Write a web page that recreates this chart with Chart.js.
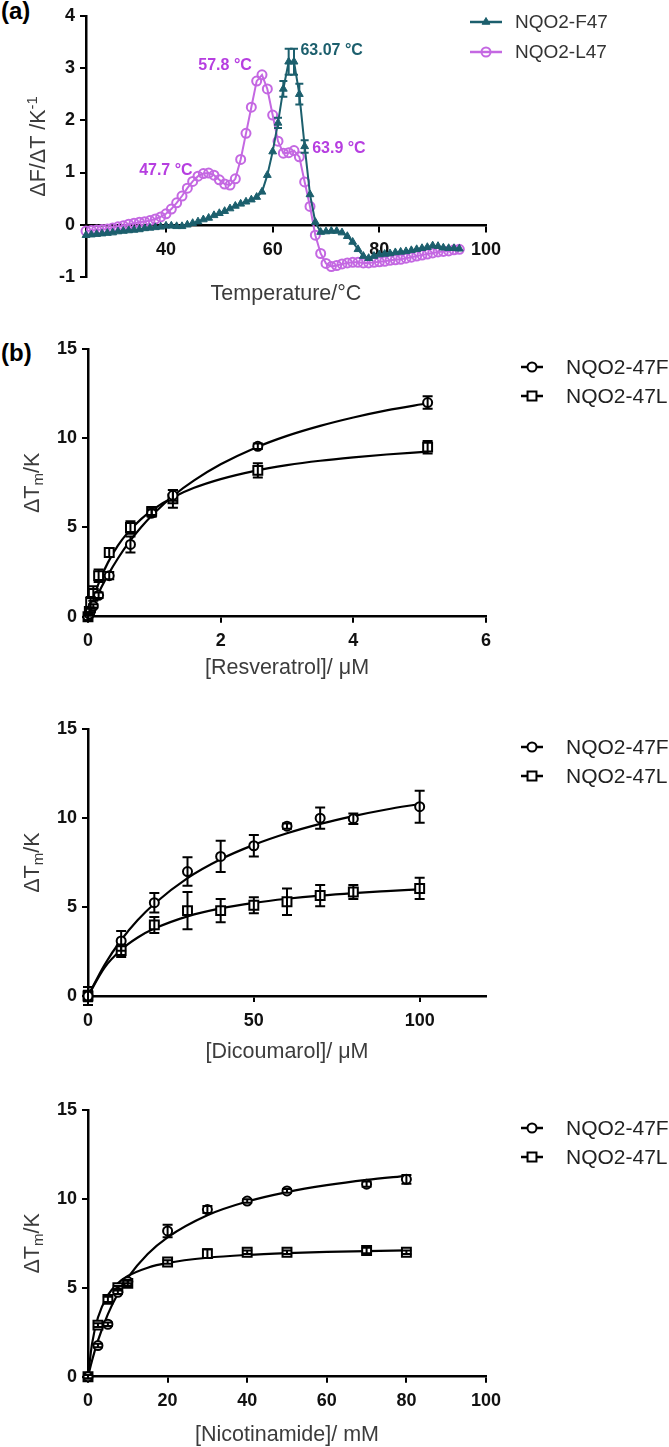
<!DOCTYPE html>
<html>
<head>
<meta charset="utf-8">
<script src="https://cdn.jsdelivr.net/npm/chart.js@4.4.1/dist/chart.umd.min.js"></script>
<style>
  body { margin: 0; background: #fff; width: 669px; height: 1447px; position: relative; overflow: hidden; }
  canvas { position: absolute; left: 0; }
  .tag { position: absolute; left: 1px; font: bold 24px "Liberation Sans", Arial, sans-serif; color: #000; }
</style>
</head>
<body>
<div class="tag" style="top:-3px">(a)</div>
<div class="tag" style="top:339px">(b)</div>
<canvas id="chartA" width="669" height="310" style="top:0"></canvas>
<canvas id="chartB1" width="669" height="380" style="top:310px"></canvas>
<canvas id="chartB2" width="669" height="385" style="top:690px"></canvas>
<canvas id="chartB3" width="669" height="387" style="top:1060px"></canvas>
<script>
// ---- (a) first derivative melting curves ----
const tempC = [25,26,27,28,29,30,31,32,33,34,35,36,37,38,39,40,41,42,43,44,45,46,47,48,49,50,
  51,52,53,54,55,56,57,58,59,60,61,62,63,64,65,66,67,68,69,70,71,72,73,74,75,76,77,78,79,80,
  81,82,83,84,85,86,87,88,89,90,91,92,93,94,95];
const nqo2F47 = [-0.20,-0.19,-0.18,-0.17,-0.16,-0.15,-0.13,-0.12,-0.11,-0.10,-0.09,-0.07,-0.06,-0.05,-0.04,-0.02,
  -0.02,-0.03,-0.03,0.00,0.03,0.06,0.10,0.13,0.18,0.22,0.26,0.31,0.36,0.40,0.44,0.48,0.53,0.63,0.95,1.40,
  1.95,2.60,3.12,3.12,2.50,1.50,0.58,0.05,-0.14,-0.13,-0.12,-0.12,-0.15,-0.22,-0.33,-0.47,-0.60,-0.64,-0.60,-0.57,
  -0.56,-0.55,-0.53,-0.52,-0.51,-0.49,-0.47,-0.45,-0.43,-0.40,-0.41,-0.44,-0.45,-0.45,-0.46];
const nqo2F47Err = [0,0,0,0,0,0,0,0,0,0,0,0,0,0,0,0,0,0,0,0,0,0,0,0,0,0,0,0,0,0,0,0,0,0,0,0,
  0.1,0.15,0.25,0.25,0.2,0.12,0,0,0,0,0,0,0,0,0,0,0,0,0,0,0,0,0,0,0,0,0,0,0,0,0,0,0,0,0];
const nqo2L47 = [-0.12,-0.11,-0.10,-0.09,-0.08,-0.06,-0.04,-0.02,0.01,0.03,0.05,0.06,0.08,0.11,0.15,0.21,
  0.30,0.42,0.55,0.70,0.83,0.93,0.98,0.99,0.95,0.86,0.78,0.76,0.88,1.25,1.75,2.25,2.75,2.87,2.60,2.10,
  1.60,1.37,1.38,1.42,1.30,0.82,0.35,-0.20,-0.55,-0.74,-0.80,-0.78,-0.75,-0.73,-0.72,-0.72,-0.73,-0.73,-0.72,-0.71,
  -0.70,-0.68,-0.67,-0.66,-0.64,-0.62,-0.60,-0.58,-0.56,-0.54,-0.52,-0.51,-0.50,-0.48,-0.47];
const tempTicksX = [40, 60, 80, 100];
const tempTicksY = [-1, 0, 1, 2, 3, 4];
const peakText = ['63.07 °C', '57.8 °C', '63.9 °C', '47.7 °C'];

// ---- (b) thermal shift vs ligand concentration ----
const seriesNames = ['NQO2-47F', 'NQO2-47L'];
const bTicksY = [0, 5, 10, 15];

const resvConc = [0, 0.02, 0.04, 0.08, 0.16, 0.32, 0.64, 0.96, 1.28, 2.56, 5.12];
const resvF    = [0, 0.15, 0.35, 0.6, 1.2, 2.3, 4.05, 5.8, 6.8, 9.55, 12.0];
const resvFErr = [0.2, 0.1, 0.1, 0.1, 0.15, 0.2, 0.45, 0.2, 0.3, 0.15, 0.35];
const resvL    = [0, 0.3, 0.8, 1.3, 2.3, 3.6, 5.0, 5.9, 6.6, 8.2, 9.5];
const resvLErr = [0.2, 0.2, 0.3, 0.4, 0.35, 0.25, 0.35, 0.2, 0.5, 0.4, 0.35];
const resvFitX = [0, 0.05, 0.1, 0.2, 0.3, 0.45, 0.6, 0.8, 1.0, 1.3, 1.6, 2.0, 2.5, 3.0, 3.5, 4.0, 4.5, 5.12];
const resvFitF = [0, 0.44, 0.86, 1.63, 2.33, 3.26, 4.08, 5.01, 5.81, 6.82, 7.64, 8.54, 9.43, 10.13, 10.69, 11.16, 11.56, 11.96];
const resvFitL = [0, 0.66, 1.25, 2.23, 3.03, 3.98, 4.71, 5.47, 6.06, 6.72, 7.22, 7.71, 8.16, 8.49, 8.74, 8.93, 9.09, 9.25];
const resvTicksX = [0, 2, 4, 6];

const dicoConc = [0, 10, 20, 30, 40, 50, 60, 70, 80, 100];
const dicoF    = [0, 3.1, 5.25, 7.0, 7.85, 8.45, 9.55, 10.0, 9.97, 10.65];
const dicoFErr = [0.5, 0.55, 0.55, 0.8, 0.88, 0.6, 0.15, 0.6, 0.3, 0.9];
const dicoL    = [0, 2.55, 4.0, 4.8, 4.8, 5.1, 5.3, 5.65, 5.85, 6.05];
const dicoLErr = [0.3, 0.35, 0.45, 1.05, 0.65, 0.45, 0.75, 0.6, 0.4, 0.6];
const dicoFitX = [0, 5, 10, 15, 20, 30, 40, 50, 60, 70, 80, 90, 100];
const dicoFitF = [0, 1.76, 3.15, 4.27, 5.19, 6.63, 7.69, 8.5, 9.15, 9.68, 10.12, 10.49, 10.8];
const dicoFitL = [0, 1.6, 2.6, 3.29, 3.79, 4.48, 4.93, 5.24, 5.47, 5.65, 5.79, 5.9, 6.0];
const dicoTicksX = [0, 50, 100];

const nicoConc = [0, 2.5, 5, 7.5, 10, 20, 30, 40, 50, 70, 80];
const nicoF    = [0, 1.75, 2.95, 4.75, 5.35, 8.2, 9.4, 9.88, 10.45, 10.83, 11.1];
const nicoFErr = [0.1, 0.1, 0.1, 0.1, 0.1, 0.35, 0.2, 0.1, 0.1, 0.15, 0.25];
const nicoL    = [0, 2.9, 4.35, 5.0, 5.25, 6.45, 6.92, 7.0, 7.0, 7.1, 7.0];
const nicoLErr = [0.1, 0.1, 0.15, 0.1, 0.15, 0.1, 0.25, 0.1, 0.1, 0.15, 0.1];
const nicoFitX = [0, 1, 2.5, 5, 7.5, 10, 15, 20, 30, 40, 50, 60, 70, 80];
const nicoFitF = [0, 0.9, 2.03, 3.52, 4.67, 5.57, 6.9, 7.84, 9.08, 9.85, 10.38, 10.77, 11.07, 11.3];
const nicoFitL = [0, 1.83, 3.33, 4.59, 5.25, 5.66, 6.13, 6.4, 6.69, 6.85, 6.95, 7.02, 7.06, 7.1];
const nicoTicksX = [0, 20, 40, 60, 80, 100];

const FONT = '"Liberation Sans", Arial, sans-serif';
const TEAL = '#1c5f6d';
const VIOLET = '#c468e2';
const VIOLET_TXT = '#b63ee0';

function pts(xs, ys) {
  return xs.map((x, i) => ({ x: x, y: ys[i] }));
}

// error bars drawn with the chart's own scales
const errorBars = {
  id: 'errorBars',
  afterDatasetsDraw(chart) {
    const ctx = chart.ctx;
    const sx = chart.scales.x, sy = chart.scales.y;
    chart.data.datasets.forEach(ds => {
      if (!ds.errors) return;
      ctx.save();
      ctx.strokeStyle = ds.borderColor;
      ctx.lineWidth = 2;
      ds.data.forEach((p, j) => {
        const e = ds.errors[j];
        if (!e) return;
        const px = sx.getPixelForValue(p.x);
        const top = sy.getPixelForValue(p.y + e);
        const bot = sy.getPixelForValue(p.y - e);
        const c = ds.capHalf || 5;
        ctx.beginPath();
        ctx.moveTo(px, top); ctx.lineTo(px, bot);
        ctx.moveTo(px - c, top); ctx.lineTo(px + c, top);
        ctx.moveTo(px - c, bot); ctx.lineTo(px + c, bot);
        ctx.stroke();
      });
      ctx.restore();
    });
  }
};

// legend at the right: line + marker + name, taken from the datasets
const sideLegend = {
  id: 'sideLegend',
  afterDraw(chart, args, o) {
    const ctx = chart.ctx;
    const items = chart.data.datasets.filter(ds => ds.inLegend);
    items.forEach((ds, i) => {
      const y = o.y + i * o.gap;
      ctx.save();
      ctx.strokeStyle = ds.borderColor;
      ctx.lineWidth = 2.5;
      ctx.beginPath();
      ctx.moveTo(o.x, y); ctx.lineTo(o.x + o.len, y);
      ctx.stroke();
      ctx.fillStyle = ds.pointBackgroundColor;
      ctx.lineWidth = ds.pointBorderWidth;
      Chart.helpers.drawPoint(ctx, { pointStyle: ds.pointStyle, radius: ds.pointRadius, borderWidth: ds.pointBorderWidth, rotation: 0 }, o.x + o.len / 2, y);
      ctx.fillStyle = o.color;
      ctx.font = o.font;
      ctx.textBaseline = 'middle';
      ctx.textAlign = 'left';
      ctx.fillText(ds.label, o.textX, y + 1);
      ctx.restore();
    });
  }
};

// axis titles (with sub/superscripts) and free text labels
const titles = {
  id: 'titles',
  afterDraw(chart, args, o) {
    const ctx = chart.ctx;
    const a = chart.chartArea;
    ctx.save();
    ctx.fillStyle = o.color;
    ctx.font = o.size + 'px ' + FONT;
    ctx.textAlign = 'center';
    ctx.textBaseline = 'middle';
    ctx.fillText(o.xText, (a.left + a.right) / 2, o.xTitleY);

    // rotated y title built from parts
    const big = o.size + 'px ' + FONT, small = Math.round(o.size * 0.68) + 'px ' + FONT;
    let w = 0;
    o.yParts.forEach(p => { ctx.font = p.s ? small : big; w += ctx.measureText(p.t).width; });
    ctx.translate(o.yTitleX, (a.top + a.bottom) / 2);
    ctx.rotate(-Math.PI / 2);
    ctx.textAlign = 'left';
    ctx.textBaseline = 'alphabetic';
    let cx = -w / 2;
    const base = o.size * 0.36;
    o.yParts.forEach(p => {
      ctx.font = p.s ? small : big;
      const dy = p.s === 'sub' ? o.size * 0.22 : p.s === 'sup' ? -o.size * 0.38 : 0;
      ctx.fillText(p.t, cx, base + dy);
      cx += ctx.measureText(p.t).width;
    });
    ctx.restore();

    if (o.notes) {
      const sx = chart.scales.x, sy = chart.scales.y;
      ctx.save();
      ctx.font = 'bold 16px ' + FONT;
      ctx.textBaseline = 'middle';
      o.notes.forEach(n => {
        ctx.fillStyle = n.color;
        ctx.textAlign = n.align;
        ctx.fillText(n.text, sx.getPixelForValue(n.x), sy.getPixelForValue(n.y));
      });
      ctx.restore();
    }
  }
};

function axisStyle(ticks, min, max, extra) {
  return Object.assign({
    type: 'linear',
    min: min,
    max: max,
    afterBuildTicks: s => { s.ticks = ticks.map(v => ({ value: v })); },
    border: { display: true, color: '#000', width: 2.5 },
    grid: { display: true, drawOnChartArea: false, drawTicks: true, tickLength: 6, color: '#000', lineWidth: 2 },
    ticks: { color: '#111', padding: 5, font: { family: FONT, size: 18, weight: 'bold' } }
  }, extra);
}

// ---- chart (a) ----
new Chart(document.getElementById('chartA'), {
  type: 'line',
  data: {
    datasets: [
      {
        label: 'NQO2-F47', data: pts(tempC, nqo2F47), errors: nqo2F47Err, capHalf: 4, inLegend: true,
        borderColor: TEAL, borderWidth: 2, pointStyle: 'triangle', pointRadius: 4.5,
        pointBackgroundColor: TEAL, pointBorderColor: TEAL, pointBorderWidth: 1, clip: false
      },
      {
        label: 'NQO2-L47', data: pts(tempC, nqo2L47), inLegend: true,
        borderColor: VIOLET, borderWidth: 2, pointStyle: 'circle', pointRadius: 4.5,
        pointBackgroundColor: 'rgba(255,255,255,0)', pointBorderColor: VIOLET, pointBorderWidth: 2, clip: false
      }
    ]
  },
  options: {
    responsive: false,
    animation: false,
    layout: { padding: { left: 0, top: 10, right: 669 - 486, bottom: 33 } },
    plugins: {
      legend: { display: false },
      tooltip: { enabled: false },
      sideLegend: { x: 470, len: 32, textX: 515, y: 22, gap: 30, font: '19px ' + FONT, color: '#333' },
      titles: {
        color: '#3c3c3c', size: 21.5, xText: 'Temperature/°C', xTitleY: 294, yTitleX: 37,
        yParts: [{ t: 'ΔF/ΔT /K' }, { t: '-1', s: 'sup' }],
        notes: [
          { text: peakText[0], x: 65.2, y: 3.33, color: TEAL, align: 'left' },
          { text: peakText[1], x: 56.1, y: 3.04, color: VIOLET_TXT, align: 'right' },
          { text: peakText[2], x: 67.4, y: 1.45, color: VIOLET_TXT, align: 'left' },
          { text: peakText[3], x: 45.0, y: 1.04, color: VIOLET_TXT, align: 'right' }
        ]
      }
    },
    scales: {
      x: axisStyle(tempTicksX, 25, 100, { position: { y: 0 }, ticks: { color: '#111', padding: 8, font: { family: FONT, size: 18, weight: 'bold' } } }),
      y: axisStyle(tempTicksY, -1, 4, { position: 'left', afterFit: s => { s.width = 86; } })
    }
  },
  plugins: [errorBars, sideLegend, titles]
});

// ---- charts (b) ----
function bindingChart(id, conc, f, fErr, l, lErr, fitX, fitF, fitL, xTicks, xMax, g) {
  const common = { borderColor: '#000', clip: false, pointBorderColor: '#000', pointBackgroundColor: '#fff', pointBorderWidth: 2 };
  new Chart(document.getElementById(id), {
    type: 'line',
    data: {
      datasets: [
        Object.assign({ label: seriesNames[0], data: pts(conc, f), errors: fErr, showLine: false, inLegend: true,
          borderWidth: 2.5, pointStyle: 'circle', pointRadius: 4.5 }, common),
        Object.assign({ label: seriesNames[1], data: pts(conc, l), errors: lErr, showLine: false, inLegend: true,
          borderWidth: 2.5, pointStyle: 'rect', pointRadius: 6.3 }, common),
        Object.assign({ label: 'fit F', data: pts(fitX, fitF), borderWidth: 2.2, pointRadius: 0,
          cubicInterpolationMode: 'monotone' }, common),
        Object.assign({ label: 'fit L', data: pts(fitX, fitL), borderWidth: 2.2, pointRadius: 0,
          cubicInterpolationMode: 'monotone' }, common)
      ]
    },
    options: {
      responsive: false,
      animation: false,
      layout: { padding: { left: 0, top: g.top, right: 669 - 486, bottom: g.bottom } },
      plugins: {
        legend: { display: false },
        tooltip: { enabled: false },
        sideLegend: { x: 521, len: 22, textX: 566, y: g.legendY, gap: 29, font: '21px ' + FONT, color: '#222' },
        titles: {
          color: '#3c3c3c', size: 21.5, xText: g.xText, xTitleY: g.xTitleY, yTitleX: 31,
          yParts: [{ t: 'ΔT' }, { t: 'm', s: 'sub' }, { t: '/K' }]
        }
      },
      scales: {
        x: axisStyle(xTicks, 0, xMax, { position: 'bottom', afterFit: s => { s.height = 40; },
          ticks: { color: '#111', padding: 8, font: { family: FONT, size: 18, weight: 'bold' } } }),
        y: axisStyle(bTicksY, 0, 15, { position: 'left', afterFit: s => { s.width = 88; } })
      }
    },
    plugins: [errorBars, sideLegend, titles]
  });
}

bindingChart('chartB1', resvConc, resvF, resvFErr, resvL, resvLErr, resvFitX, resvFitF, resvFitL, resvTicksX, 6,
  { top: 39, bottom: 33.3, legendY: 57, xTitleY: 358, xText: '[Resveratrol]/ μM' });
bindingChart('chartB2', dicoConc, dicoF, dicoFErr, dicoL, dicoLErr, dicoFitX, dicoFitF, dicoFitL, dicoTicksX, 120,
  { top: 39.3, bottom: 39, legendY: 57, xTitleY: 362, xText: '[Dicoumarol]/ μM' });
bindingChart('chartB3', nicoConc, nicoF, nicoFErr, nicoL, nicoLErr, nicoFitX, nicoFitF, nicoFitL, nicoTicksX, 100,
  { top: 50, bottom: 30.3, legendY: 68, xTitleY: 375, xText: '[Nicotinamide]/ mM' });
</script>
</body>
</html>
